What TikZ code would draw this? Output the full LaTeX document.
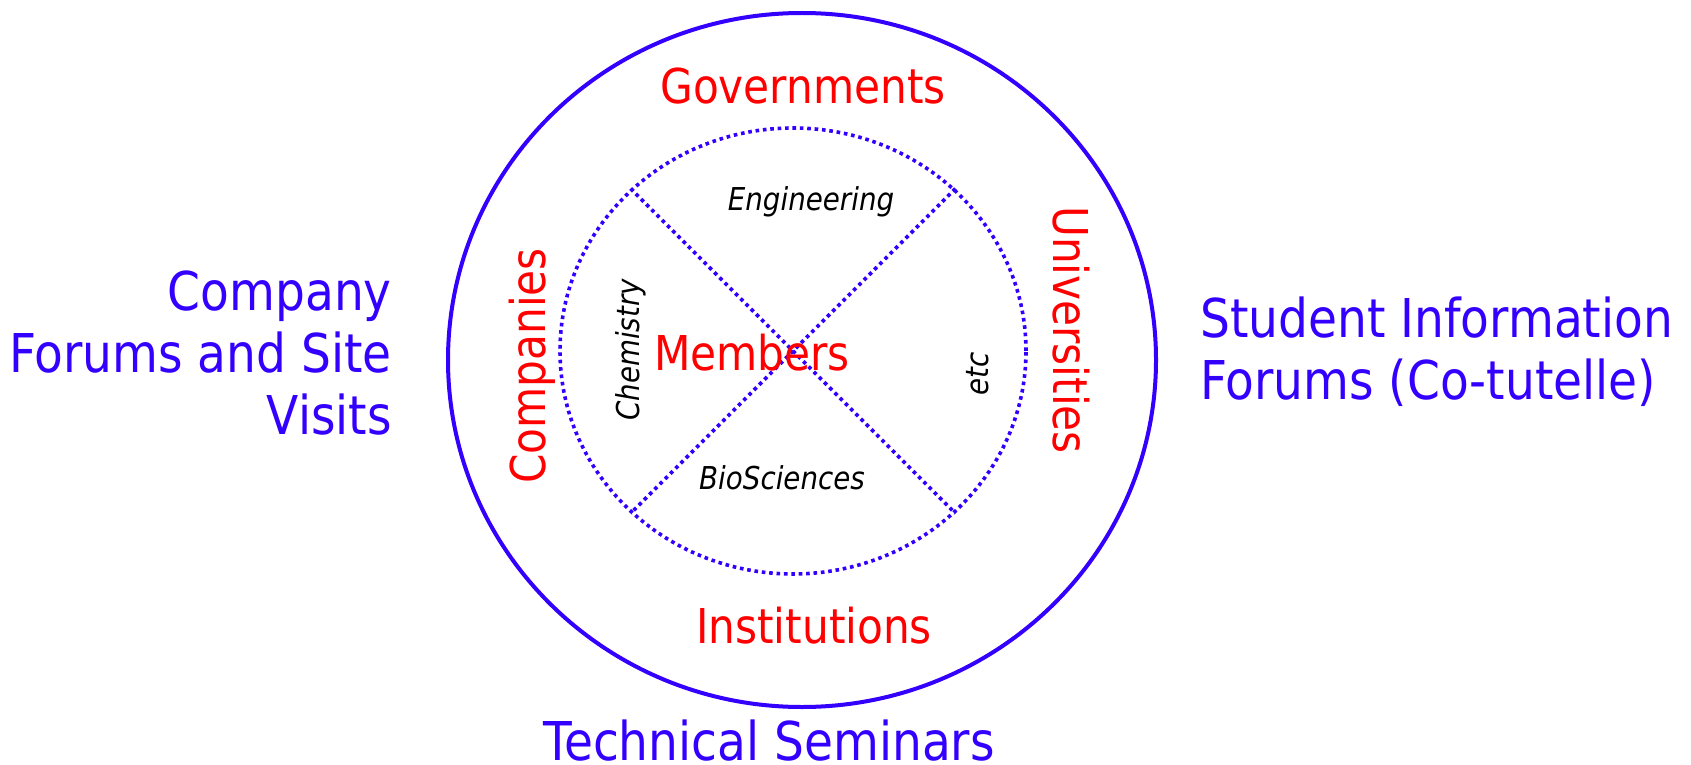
\documentclass[tikz,border=0pt]{standalone}
\usepackage{fontspec}
\setmainfont{DejaVu Sans}[FakeStretch=0.88]
\usetikzlibrary{shapes.geometric}
\definecolor{cblue}{RGB}{51,0,255}
\definecolor{cred}{RGB}{255,0,0}
\begin{document}
\begin{tikzpicture}[x=1pt,y=-1pt,
  redtext/.style={font=\fontsize{48}{60}\selectfont, inner sep=0pt, text=cred},
  bluetext/.style={font=\fontsize{53.5}{62}\selectfont, inner sep=0pt, text=cblue},
  small/.style={font=\fontsize{31.5}{36}\selectfont\itshape, inner sep=0pt, text=black},
  dotline/.style={draw=cblue, line width=3.6pt, dash pattern=on 3.6pt off 3.8pt}]
\useasboundingbox (0,0) rectangle (1691,765);
\node[ellipse, draw=cblue, line width=4pt, minimum width=708pt, minimum height=694pt, inner sep=0pt] (outer) at (802,360) {};
\node[ellipse, dotline, minimum width=466pt, minimum height=446pt, inner sep=0pt] (inner) at (793,351) {};
\draw[dotline] (inner.135) -- (inner.-45);
\draw[dotline] (inner.45) -- (inner.-135);
\node[redtext] (gov) at (803,86) {Governments};
\node[redtext] (inst) at (814,626) {Institutions};
\node[redtext, rotate=90] (comp) at (532,366) {Companies};
\node[redtext, rotate=-90] (univ) at (1071,330) {Universities};
\node[redtext] (mem) at (752,353) {Members};
\node[small] (eng) at (811,202) {Engineering};
\node[small] (bio) at (782,478) {BioSciences};
\node[small, rotate=90] (chem) at (631,350) {Chemistry};
\node[small, rotate=90] (etc) at (978,374) {etc};
\node[bluetext, align=right, anchor=east] (left) at (392,353) {Company\\Forums and Site\\Visits};
\node[bluetext, align=left, anchor=west] (right) at (1200,352) {Student Information\\Forums (Co-tutelle)};
\node[bluetext] (tech) at (769,741) {Technical Seminars};
\end{tikzpicture}
\end{document}
